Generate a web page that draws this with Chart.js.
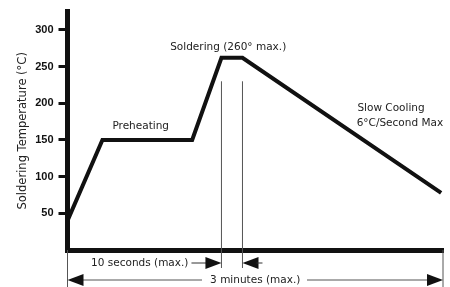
<!DOCTYPE html>
<html>
<head>
<meta charset="utf-8">
<script src="https://cdn.jsdelivr.net/npm/chart.js@4.4.1/dist/chart.umd.min.js"></script>
<style>
  html, body { margin: 0; padding: 0; background: #fff; }
</style>
</head>
<body>
<canvas id="perfil" width="450" height="287"></canvas>
<script>
// perfil de solda: tempo (escala esquematica 0-100) x temperatura
const tempo = [0, 9.3, 33.2, 41.0, 46.6, 99.5];
const temperatura = [40, 150, 150, 262, 262, 78];
const yTicks = [50, 100, 150, 200, 250, 300];

const fonte = "'DejaVu Sans', sans-serif";
const preto = '#111';

function seta(ctx, ponta, y, dir) {
  // dir = 1 aponta para a direita, -1 para a esquerda
  ctx.beginPath();
  ctx.moveTo(ponta, y);
  ctx.lineTo(ponta - dir * 16, y - 6);
  ctx.lineTo(ponta - dir * 16, y + 6);
  ctx.closePath();
  ctx.fill();
}

function linha(ctx, xa, ya, xb, yb) {
  ctx.beginPath();
  ctx.moveTo(xa, ya);
  ctx.lineTo(xb, yb);
  ctx.stroke();
}

const anotacoes = {
  id: 'anotacoes',
  afterDraw(chart) {
    const { ctx, chartArea, scales: { x, y } } = chart;
    const x0 = x.getPixelForValue(0);
    const x1 = x.getPixelForValue(100);
    const picoIni = x.getPixelForValue(tempo[3]);
    const picoFim = x.getPixelForValue(tempo[4]);
    const base = chartArea.bottom;
    const l1 = base + 13;
    const l2 = base + 30;

    ctx.save();
    // linhas finas verticais
    ctx.strokeStyle = '#555';
    ctx.lineWidth = 1;
    linha(ctx, picoIni, y.getPixelForValue(230), picoIni, base + 18);
    linha(ctx, picoFim, y.getPixelForValue(230), picoFim, base + 18);
    linha(ctx, x0, base, x0, 287);
    linha(ctx, x1, base, x1, 287);

    // textos
    ctx.fillStyle = '#222';
    ctx.textBaseline = 'middle';
    ctx.font = `10.5px ${fonte}`;
    ctx.textAlign = 'center';
    ctx.fillText('Preheating', x.getPixelForValue(19.5), y.getPixelForValue(168));
    ctx.fillText('Soldering (260° max.)', x.getPixelForValue(42.8), y.getPixelForValue(277));
    ctx.textAlign = 'left';
    ctx.fillText('Slow Cooling', x.getPixelForValue(77.2), y.getPixelForValue(193));
    ctx.fillText('6°C/Second Max', x.getPixelForValue(77.0), y.getPixelForValue(173));

    // 10 segundos
    ctx.textAlign = 'right';
    ctx.fillText('10 seconds (max.)', picoIni - 33, l1);
    ctx.strokeStyle = '#333';
    linha(ctx, picoIni - 30, l1, picoIni - 14, l1);
    ctx.fillStyle = preto;
    seta(ctx, picoIni, l1, 1);
    seta(ctx, picoFim, l1, -1);
    linha(ctx, picoFim + 14, l1, picoFim + 20, l1);

    // 3 minutos
    ctx.fillStyle = '#222';
    ctx.textAlign = 'center';
    ctx.fillText('3 minutes (max.)', (x0 + x1) / 2, l2);
    ctx.strokeStyle = '#555';
    linha(ctx, x0 + 14, l2, 202, l2);
    linha(ctx, 307, l2, x1 - 14, l2);
    ctx.fillStyle = preto;
    seta(ctx, x0, l2, -1);
    seta(ctx, x1, l2, 1);
    ctx.restore();
  }
};

new Chart(document.getElementById('perfil'), {
  type: 'line',
  data: {
    datasets: [{
      data: tempo.map((t, i) => ({ x: t, y: temperatura[i] })),
      borderColor: preto,
      borderWidth: 4,
      pointRadius: 0,
      tension: 0,
      borderJoinStyle: 'miter'
    }]
  },
  options: {
    responsive: false,
    animation: false,
    devicePixelRatio: 1,
    layout: { padding: { top: 7, right: 7, left: 0, bottom: 0 } },
    plugins: { legend: { display: false }, tooltip: { enabled: false } },
    scales: {
      x: {
        type: 'linear',
        min: 0,
        max: 100,
        ticks: { display: false },
        grid: { display: false },
        border: { color: preto, width: 5 },
        afterFit: s => { s.height = 37; }
      },
      y: {
        min: 0,
        max: 325,
        afterBuildTicks: s => { s.ticks = yTicks.map(v => ({ value: v })); },
        afterFit: s => { s.width = 67.5; },
        ticks: {
          color: preto,
          padding: 5,
          font: { family: "'Liberation Sans', Arial, sans-serif", size: 11, weight: 'bold' }
        },
        grid: { drawOnChartArea: false, tickLength: 9, tickWidth: 3, color: preto },
        border: { color: preto, width: 5 },
        title: {
          display: true,
          text: 'Soldering Temperature (°C)',
          color: '#222',
          padding: { top: 16 },
          font: { family: fonte, size: 11.5 }
        }
      }
    }
  },
  plugins: [anotacoes]
});
</script>
</body>
</html>
